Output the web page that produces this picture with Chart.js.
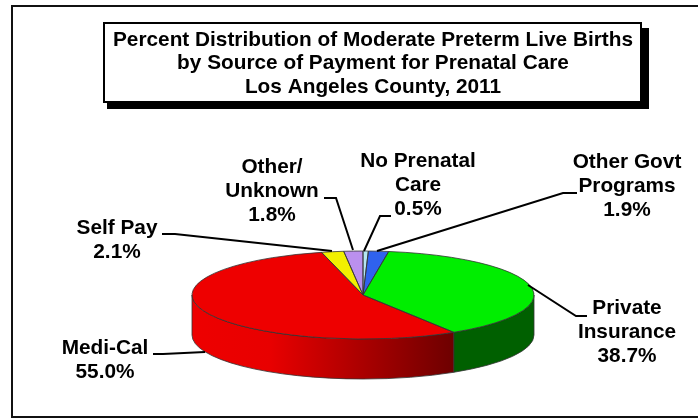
<!DOCTYPE html>
<html>
<head>
<meta charset="utf-8">
<title>Moderate Preterm Live Births by Source of Payment</title>
<script src="https://cdn.jsdelivr.net/npm/chart.js@4"></script>
<style>
    html, body { margin: 0; padding: 0; background: #fff; }
    #wrap { position: relative; width: 698px; height: 419px; overflow: hidden; }
</style>
</head>
<body>
<div id="wrap"><canvas id="myChart" width="698" height="419"></canvas></div>
<script>
const titleLines = [
    'Percent Distribution of Moderate Preterm Live Births',
    'by Source of Payment for Prenatal Care',
    'Los Angeles County, 2011'
];
// clockwise from 12 o'clock
const categories = ['No Prenatal Care', 'Other Govt Programs', 'Private Insurance', 'Medi-Cal', 'Self Pay', 'Other/Unknown'];
const percents = [0.5, 1.9, 38.7, 55.0, 2.1, 1.8];
const labelLines = [['No Prenatal', 'Care'], ['Other Govt', 'Programs'], ['Private', 'Insurance'], ['Medi-Cal'], ['Self Pay'], ['Other/', 'Unknown']];

const sliceColors = ['#b4e6f2', '#2f62ee', '#00ee00', '#ee0000', '#f2f000', '#bb90ee'];

// label centre x and first line centre y
const labelX = [418, 627, 627, 105, 117, 272];
const labelY = [161, 162, 308, 348, 228, 167];
// leader polylines, label end first
const leaders = [
    [[391, 216], [380, 216], [364, 251]],
    [[577, 193], [563, 193], [377, 251]],
    [[587, 316], [576, 316], [528, 285]],
    [[153, 354], [163, 354], [205, 352]],
    [[162, 234], [175, 234], [332, 251]],
    [[324, 198], [336, 198], [353, 250]]
];

const RX = 171, RY = 44, DEPTH = 40;
const FONT = '"Liberation Sans", Arial, sans-serif';

const sideWall = (ctx, arc, color) => {
    // only the front half of the disc shows a wall
    const a = Math.max(arc.startAngle, 0);
    const b = Math.min(arc.endAngle, Math.PI);
    if (b <= a) return;
    ctx.beginPath();
    ctx.ellipse(arc.x, arc.y, RX, RY, 0, a, b);
    ctx.ellipse(arc.x, arc.y + DEPTH, RX, RY, 0, b, a, true);
    ctx.closePath();
    ctx.fillStyle = color;
    ctx.fill();
    ctx.strokeStyle = '#333';
    ctx.lineWidth = 0.8;
    ctx.stroke();
};

const pie3d = {
    id: 'pie3d',
    beforeDraw(chart) {
        const ctx = chart.ctx;
        ctx.save();
        // outer frame runs off the right edge
        ctx.strokeStyle = '#111';
        ctx.lineWidth = 2;
        ctx.strokeRect(12, 6, 720, 411);
        // title box and its shadow
        ctx.fillStyle = '#000';
        ctx.fillRect(107, 28, 542, 81);
        ctx.fillStyle = '#fff';
        ctx.fillRect(104, 23, 537, 79);
        ctx.strokeStyle = '#000';
        ctx.strokeRect(104, 23, 537, 79);
        ctx.fillStyle = '#000';
        ctx.font = 'bold 20.8px ' + FONT;
        ctx.textAlign = 'center';
        ctx.textBaseline = 'middle';
        titleLines.forEach((line, i) => ctx.fillText(line, 373, 40 + i * 23.5));
        ctx.restore();
    },
    beforeDatasetsDraw(chart) {
        const ctx = chart.ctx;
        const arcs = chart.getDatasetMeta(0).data;
        const first = arcs[0];
        const grad = ctx.createLinearGradient(first.x - RX, 0, first.x + 90, 0);
        grad.addColorStop(0, '#ee0000');
        grad.addColorStop(0.3, '#e80000');
        grad.addColorStop(1, '#6e0000');
        arcs.forEach((arc, i) => {
            if (i === 2) sideWall(ctx, arc, '#006000');
            if (i === 3) sideWall(ctx, arc, grad);
        });
        // squash the library's round pie into the top of the disc
        ctx.save();
        ctx.translate(first.x, first.y);
        ctx.scale(RX / first.outerRadius, RY / first.outerRadius);
        ctx.translate(-first.x, -first.y);
    },
    afterDatasetsDraw(chart) {
        const ctx = chart.ctx;
        ctx.restore();
        const arcs = chart.getDatasetMeta(0).data;
        ctx.save();
        ctx.strokeStyle = '#333';
        ctx.lineWidth = 0.8;
        arcs.forEach((arc) => {
            ctx.beginPath();
            ctx.moveTo(arc.x, arc.y);
            ctx.ellipse(arc.x, arc.y, RX, RY, 0, arc.startAngle, arc.endAngle);
            ctx.closePath();
            ctx.stroke();
        });
        // leaders
        ctx.strokeStyle = '#000';
        ctx.lineWidth = 2;
        leaders.forEach((pts) => {
            ctx.beginPath();
            pts.forEach((p, i) => (i ? ctx.lineTo(p[0], p[1]) : ctx.moveTo(p[0], p[1])));
            ctx.stroke();
        });
        // labels
        ctx.fillStyle = '#000';
        ctx.font = 'bold 20.8px ' + FONT;
        ctx.textAlign = 'center';
        ctx.textBaseline = 'middle';
        categories.forEach((c, i) => {
            const lines = labelLines[i].concat(percents[i].toFixed(1) + '%');
            lines.forEach((line, j) => ctx.fillText(line, labelX[i], labelY[i] + j * 24));
        });
        ctx.restore();
    }
};

const ctx = document.getElementById('myChart').getContext('2d');
const chart = new Chart(ctx, {
    type: 'pie',
    data: {
        labels: categories,
        datasets: [{
            data: percents,
            backgroundColor: sliceColors,
            borderWidth: 0
        }]
    },
    options: {
        responsive: false,
        animation: false,
        layout: { padding: { top: 175, bottom: 4, left: 243, right: 215 } },
        plugins: {
            legend: { display: false },
            tooltip: { enabled: false },
            title: { display: false }
        }
    },
    plugins: [pie3d]
});
</script>
</body>
</html>
